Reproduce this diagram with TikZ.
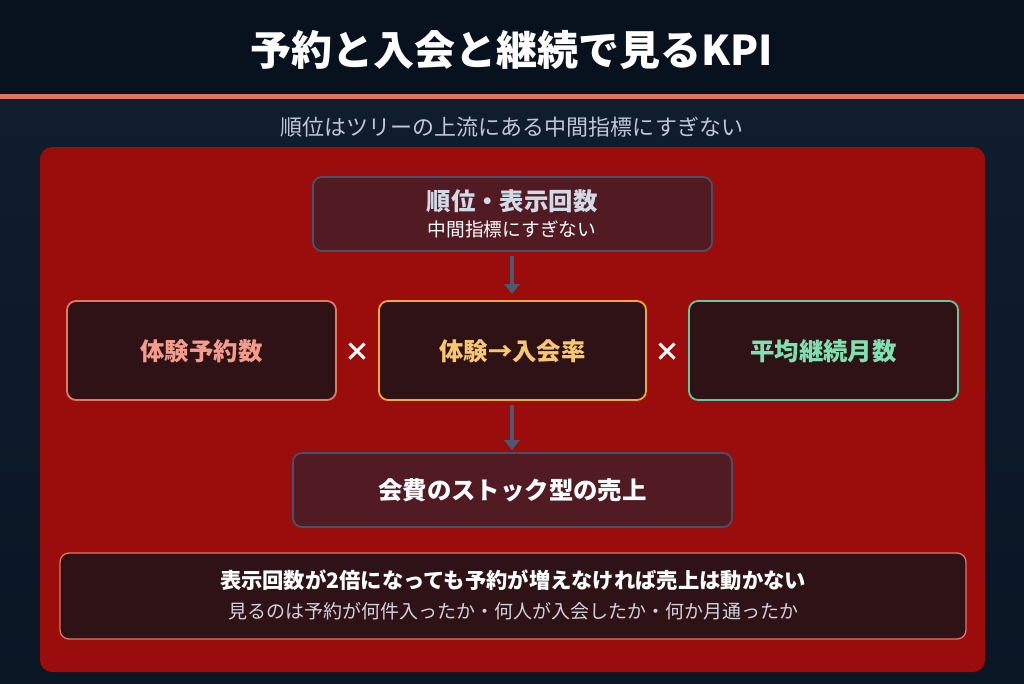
\documentclass[tikz,border=0pt]{standalone}
\usepackage{fontspec}
\setmainfont{Noto Sans CJK JP}
\usetikzlibrary{arrows.meta}
\definecolor{bgtop}{HTML}{0A1624}
\definecolor{bgbot}{HTML}{101E2E}
\definecolor{hdr}{HTML}{08121E}
\definecolor{accent}{HTML}{E07060}
\definecolor{panel}{HTML}{9B0D0D}
\definecolor{boxA}{HTML}{521A22}
\definecolor{boxB}{HTML}{2E1216}
\definecolor{gborder}{HTML}{465268}
\definecolor{salmon}{HTML}{E07868}
\definecolor{orng}{HTML}{F0A838}
\definecolor{teal}{HTML}{60C8A0}
\definecolor{arr}{HTML}{4A5A70}
\begin{document}
\begin{tikzpicture}[x=1pt,y=-1pt,
 box/.style={draw,line width=1.8pt,rounded corners=9pt,inner sep=0pt},
 conn/.style={arr,line width=3.5pt,-{Triangle[length=10pt,width=15pt]}},
 big/.style={font=\fontsize{24.4}{28}\selectfont\bfseries}]
\useasboundingbox (0,0) rectangle (1024,683);
\shade[top color=bgbot,bottom color=bgtop] (0,0) rectangle (1024,683);
\fill[hdr] (0,0) rectangle (1024,95);
\fill[accent] (0,94) rectangle (1024,99);
\node (title) at (512,50) [white,font=\fontsize{41}{46}\selectfont\bfseries] {予約と入会と継続で見るKPI};
\node (sub) at (512,127) [color={rgb,255:red,190;green,200;blue,215},font=\fontsize{22}{26}\selectfont] {順位はツリーの上流にある中間指標にすぎない};
\fill[panel,rounded corners=12pt] (40,147) rectangle (985,672);
% top box
\draw[box,fill=boxA,draw=gborder] (313,177) rectangle (712,251);
\node (top) at (512,201) [color={rgb,255:red,210;green,218;blue,232},big] {順位・表示回数};
\node (topsub) at (512,229) [white,font=\fontsize{18.7}{22}\selectfont] {中間指標にすぎない};
% three boxes
\draw[box,fill=boxB,draw=salmon] (67,301) rectangle (336,400);
\node (a) at (201.5,351) [color={rgb,255:red,244;green,156;blue,140},big] {体験予約数};
\draw[box,fill=boxB,draw=orng] (379,301) rectangle (646,400);
\node (b) at (512.5,351) [color={rgb,255:red,248;green,200;blue,112},big] {体験→入会率};
\draw[box,fill=boxB,draw=teal] (689,301) rectangle (958,400);
\node (c) at (823.5,351) [color={rgb,255:red,128;green,224;blue,176},big] {平均継続月数};
\node (x1) at (357,352) [white,font=\fontsize{26}{28}\selectfont\bfseries] {×};
\node (x2) at (667,352) [white,font=\fontsize{26}{28}\selectfont\bfseries] {×};
% result box
\draw[box,fill=boxA,draw=gborder] (293,453) rectangle (732,527);
\node (r) at (512.5,490) [white,big] {会費のストック型の売上};
% arrows
\coordinate (t1) at (512,256);
\coordinate (t2) at (512,294);
\coordinate (m1) at (512,405);
\coordinate (m2) at (512,450);
\draw[conn] (t1) -- (t2);
\draw[conn] (m1) -- (m2);
% bottom note
\draw[box,fill=boxB,draw=salmon,line width=1.3pt] (60,553) rectangle (966,639);
\node (n1) at (513,580) [white,font=\fontsize{21.3}{24}\selectfont\bfseries] {表示回数が2倍になっても予約が増えなければ売上は動かない};
\node (n2) at (513,611) [color={rgb,255:red,210;green,210;blue,220},font=\fontsize{19}{22}\selectfont] {見るのは予約が何件入ったか・何人が入会したか・何か月通ったか};
\end{tikzpicture}
\end{document}
